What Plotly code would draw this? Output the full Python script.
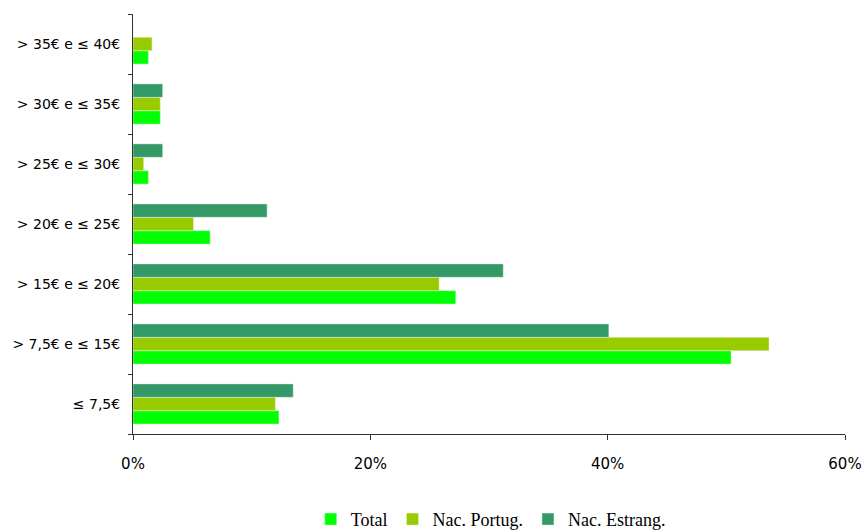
import plotly.graph_objects as go

# Price bands (bottom to top on the chart)
categories = [
    "≤ 7,5€",
    "> 7,5€ e ≤ 15€",
    "> 15€ e ≤ 20€",
    "> 20€ e ≤ 25€",
    "> 25€ e ≤ 30€",
    "> 30€ e ≤ 35€",
    "> 35€ e ≤ 40€",
]

# Share of respondents (%) per band
total = [12.3, 50.4, 27.2, 6.5, 1.3, 2.3, 1.3]
nac_portug = [12.0, 53.6, 25.8, 5.1, 0.9, 2.3, 1.6]
nac_estrang = [13.5, 40.1, 31.2, 11.3, 2.5, 2.5, 0.0]

x_ticks = [0, 20, 40, 60]
x_tick_labels = ["0%", "20%", "40%", "60%"]

series = [
    ("Total", total, "#00FF00"),
    ("Nac. Portug.", nac_portug, "#99CC00"),
    ("Nac. Estrang.", nac_estrang, "#339966"),
]

fig = go.Figure()
for name, vals, color in series:
    fig.add_trace(go.Bar(
        y=categories, x=vals, name=name, orientation="h",
        marker=dict(color=color, line=dict(color="rgba(230,245,230,0.8)", width=0.6)),
    ))

fig.update_layout(
    width=864, height=530,
    margin=dict(l=133, r=19, t=14, b=96),
    barmode="group", bargap=0.33, bargroupgap=0,
    plot_bgcolor="white", paper_bgcolor="white",
    showlegend=True,
    legend=dict(
        orientation="h", xref="container", x=0.568, xanchor="center",
        yref="container", y=0.02, yanchor="middle",
        font=dict(family="Liberation Serif", size=18, color="#000"),
        itemwidth=30, tracegroupgap=0,
    ),
    font=dict(family="DejaVu Sans", size=14, color="#000"),
)

fig.update_xaxes(
    range=[0, 60], tickvals=x_ticks, ticktext=x_tick_labels,
    automargin=False,
    showgrid=False, zeroline=False,
    showline=True, linecolor="#333", linewidth=1,
    ticks="outside", ticklen=5, tickcolor="#333",
    ticklabelstandoff=11,
    tickfont=dict(family="DejaVu Sans", size=15, color="#000"),
)
fig.update_yaxes(
    categoryorder="array", categoryarray=categories,
    automargin=False,
    showgrid=False, zeroline=False,
    showline=True, linecolor="#333", linewidth=1,
    ticks="outside", ticklen=4, tickcolor="#333", tickson="boundaries",
    ticklabelstandoff=9,
    tickfont=dict(family="DejaVu Sans", size=14, color="#000"),
)

fig.write_html("out.html")
